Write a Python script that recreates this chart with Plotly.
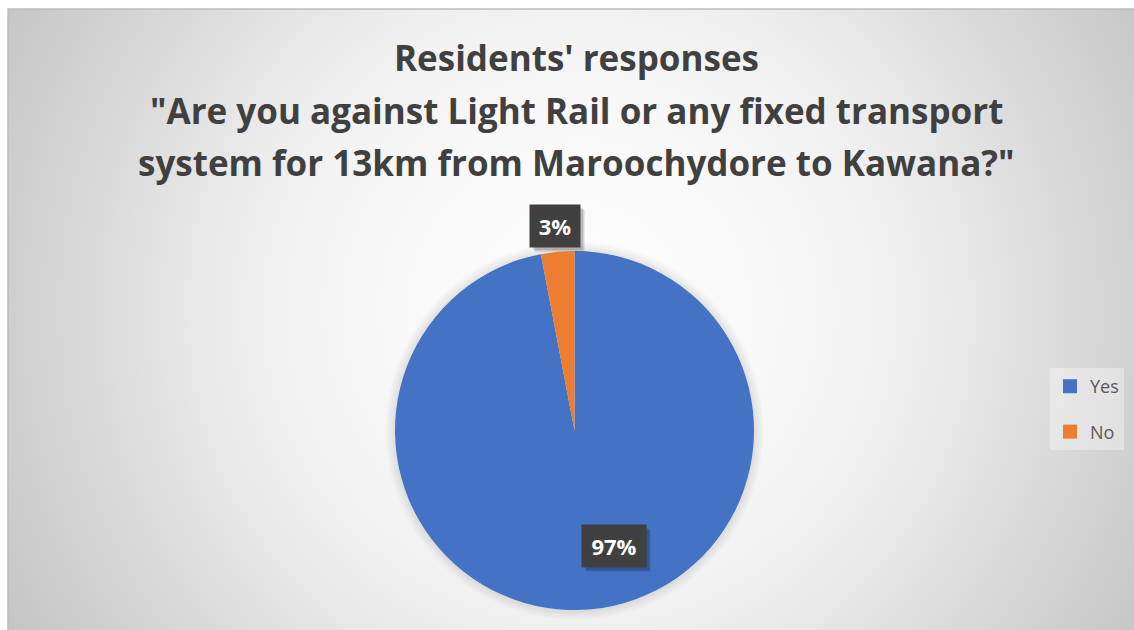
import base64
import plotly.graph_objects as go

# ---- data ----
labels = ["Yes", "No"]
values = [97, 3]
colors = ["#4472C4", "#ED7D31"]
title_lines = [
    "Residents' responses",
    "\"Are you against Light Rail or any fixed transport",
    "system for 13km from Maroochydore to Kawana?\"",
]

W, H = 1134, 630


def px(x):
    return x / W


def py(y):
    return 1 - y / H


# ---- chart area background: radial grey gradient with white outer page ----
svg = f"""<svg xmlns='http://www.w3.org/2000/svg' width='{W}' height='{H}' viewBox='0 0 {W} {H}'>
<defs>
<radialGradient id='g' gradientUnits='userSpaceOnUse' cx='580' cy='310' r='660'>
<stop offset='0' stop-color='#ffffff'/>
<stop offset='0.30' stop-color='#f8f8f8'/>
<stop offset='0.45' stop-color='#f2f2f2'/>
<stop offset='0.55' stop-color='#ebebeb'/>
<stop offset='0.72' stop-color='#dcdcdc'/>
<stop offset='0.86' stop-color='#d0d0d0'/>
<stop offset='1' stop-color='#c4c4c4'/>
</radialGradient>
</defs>
<rect x='0' y='0' width='{W}' height='{H}' fill='#ffffff'/>
<rect x='8' y='9' width='{W + 20}' height='{H + 20}' fill='url(#g)' stroke='#bdbdbd' stroke-width='1.5'/>
</svg>"""
bg_src = "data:image/svg+xml;base64," + base64.b64encode(svg.encode()).decode()

# pie geometry (pixels)
cx, cy, r = 574.5, 430.5, 179.5

fig = go.Figure()
fig.add_trace(
    go.Pie(
        labels=labels,
        values=values,
        marker=dict(colors=colors, line=dict(width=0)),
        sort=False,
        direction="clockwise",
        rotation=0,
        textinfo="none",
        hoverinfo="label+percent",
        showlegend=False,
        domain=dict(x=[px(cx - r), px(cx + r)], y=[py(cy + r), py(cy - r)]),
    )
)

# legend entries
for i, (lab, col) in enumerate(zip(labels, colors)):
    fig.add_trace(
        go.Scatter(
            x=[None], y=[None], mode="markers", name=lab,
            marker=dict(symbol="square", size=14, color=col),
            legendgroup=f"g{i}", showlegend=True,
        )
    )

shapes = []
# soft shadow around the pie
for k in range(1, 7):
    rr = r + 1.6 * k
    shapes.append(dict(
        type="circle", xref="paper", yref="paper", layer="below",
        x0=px(cx - rr), x1=px(cx + rr), y0=py(cy + rr), y1=py(cy - rr),
        fillcolor="rgba(0,0,0,0.016)", line=dict(width=0),
    ))

annotations = []
# title, one annotation per line
title_y = [57, 110, 163]
for txt, yy in zip(title_lines, title_y):
    annotations.append(dict(
        text=f"<b>{txt}</b>", xref="paper", yref="paper",
        x=px(576), y=py(yy), xanchor="center", yanchor="middle",
        showarrow=False, font=dict(family="Open Sans", size=35, color="#404040"),
    ))

# data labels with dark boxes and a soft drop shadow
total = sum(values)
label_boxes = [(614, 546, 64), (555, 226, 50)]
box_h = 42
for v, (lx, ly, bw) in zip(values, label_boxes):
    txt = f"{v / total * 100:.0f}%"
    for d, a in [(5, 0.07), (4, 0.09), (3, 0.12)]:
        shapes.append(dict(
            type="rect", xref="paper", yref="paper", layer="above",
            x0=px(lx - bw / 2 + d), x1=px(lx + bw / 2 + d),
            y0=py(ly + box_h / 2 + d), y1=py(ly - box_h / 2 + d),
            fillcolor=f"rgba(0,0,0,{a})", line=dict(width=0),
        ))
    annotations.append(dict(
        text=f"<b>{txt}</b>", xref="paper", yref="paper",
        x=px(lx), y=py(ly), xanchor="center", yanchor="middle",
        showarrow=False, width=bw, height=box_h, borderpad=0,
        bgcolor="#404040",
        font=dict(family="Open Sans", size=22, color="#ffffff"),
    ))

fig.update_layout(
    width=W, height=H,
    margin=dict(l=0, r=0, t=0, b=0),
    paper_bgcolor="#ffffff",
    plot_bgcolor="rgba(0,0,0,0)",
    xaxis=dict(visible=False),
    yaxis=dict(visible=False),
    images=[dict(
        source=bg_src, xref="paper", yref="paper", x=0, y=1,
        sizex=1, sizey=1, xanchor="left", yanchor="top",
        sizing="stretch", layer="below",
    )],
    shapes=shapes,
    annotations=annotations,
    showlegend=True,
    legend=dict(
        x=px(1050), y=py(368), xanchor="left", yanchor="top",
        bgcolor="rgba(255,255,255,0.35)", borderwidth=0,
        font=dict(family="Open Sans", size=18, color="#595959"),
        traceorder="grouped", tracegroupgap=19,
        itemclick=False, itemdoubleclick=False,
    ),
)

fig.write_html("out.html")
